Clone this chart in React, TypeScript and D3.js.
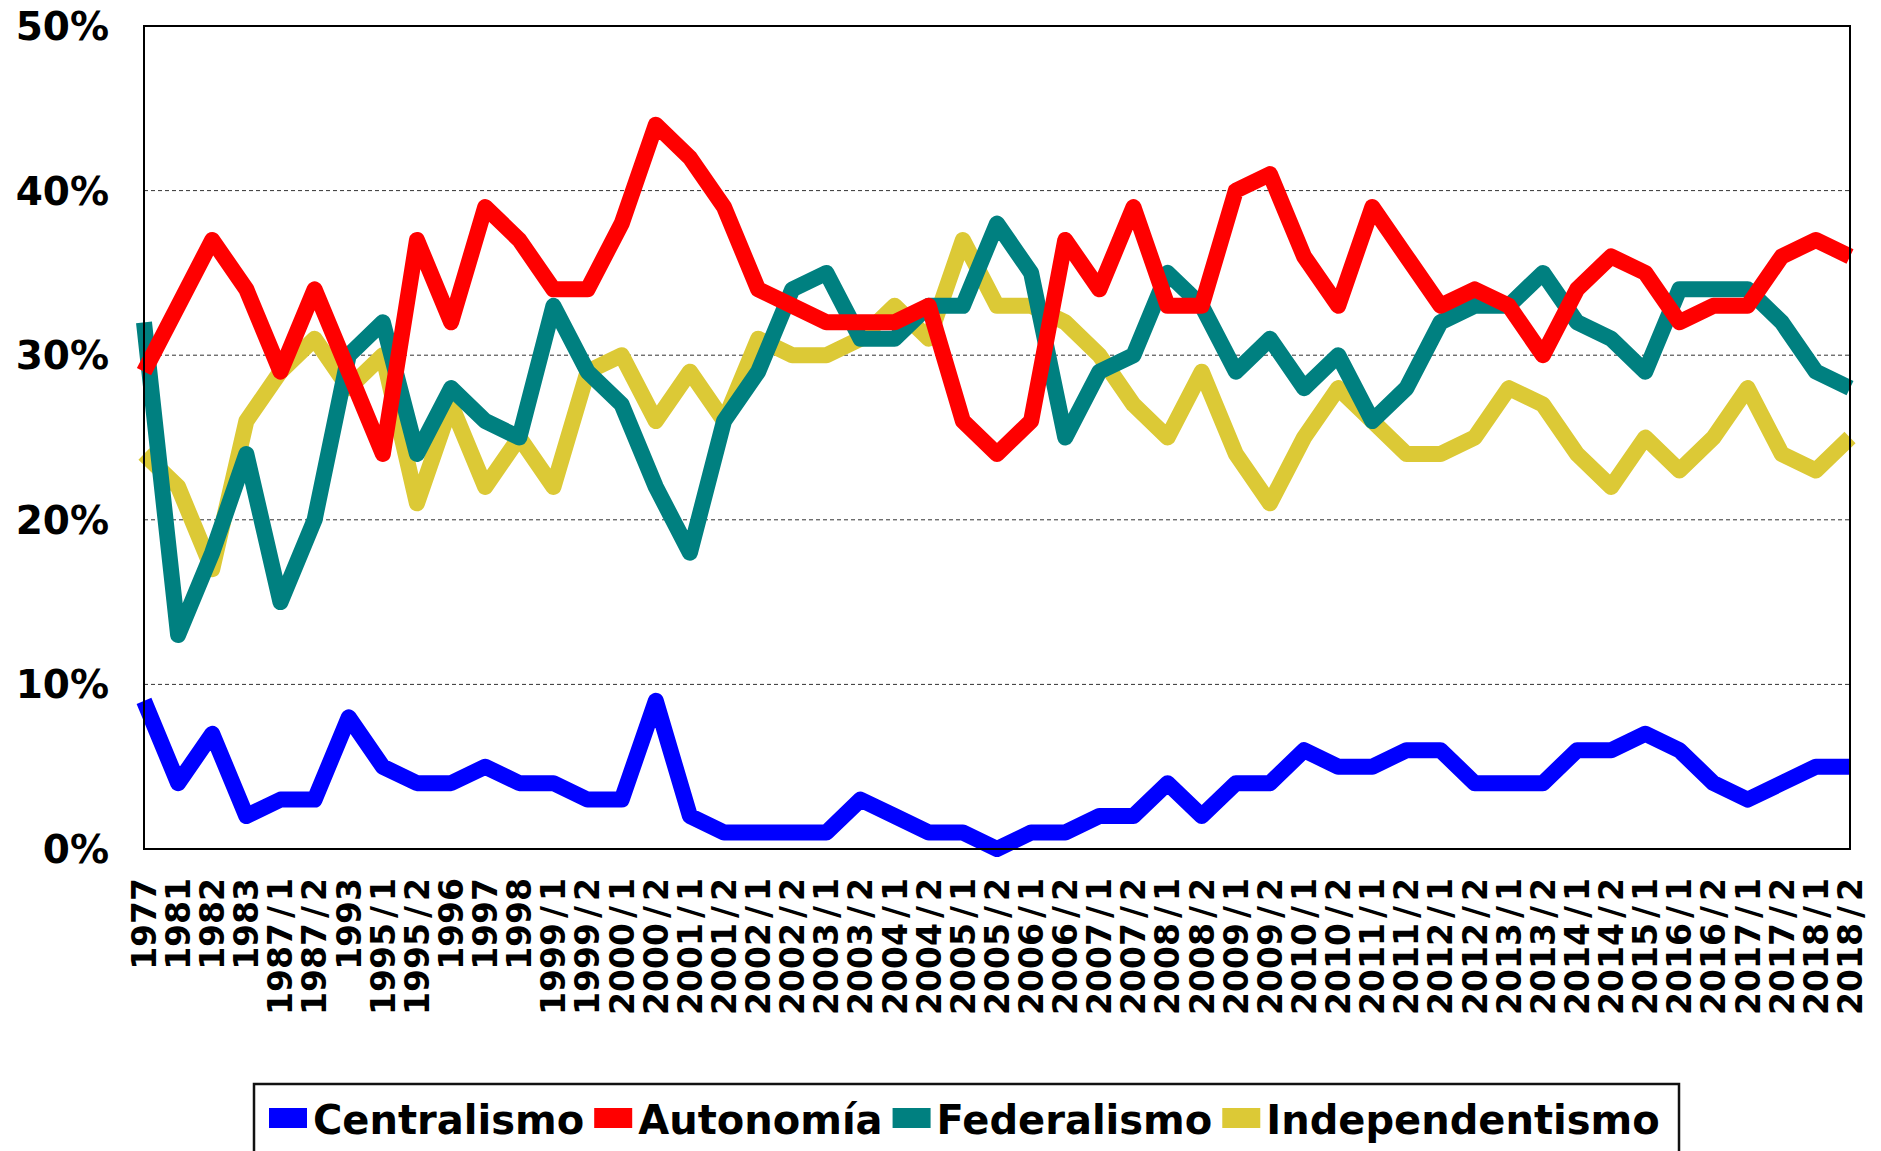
import React, { useEffect, useRef } from 'react';
import * as d3 from 'd3';

const categories = ["1977","1981","1982","1983","1987/1","1987/2","1993","1995/1","1995/2","1996","1997","1998","1999/1","1999/2","2000/1","2000/2","2001/1","2001/2","2002/1","2002/2","2003/1","2003/2","2004/1","2004/2","2005/1","2005/2","2006/1","2006/2","2007/1","2007/2","2008/1","2008/2","2009/1","2009/2","2010/1","2010/2","2011/1","2011/2","2012/1","2012/2","2013/1","2013/2","2014/1","2014/2","2015/1","2016/1","2016/2","2017/1","2017/2","2018/1","2018/2"];

const centralismo = [9,4,7,2,3,3,8,5,4,4,5,4,4,3,3,9,2,1,1,1,1,3,2,1,1,0,1,1,2,2,4,2,4,4,6,5,5,6,6,4,4,4,6,6,7,6,4,3,4,5,5];
const autonomia = [29,33,37,34,29,34,29,24,37,32,39,37,34,34,38,44,42,39,34,33,32,32,32,33,26,24,26,37,34,39,33,33,40,41,36,33,39,36,33,34,33,30,34,36,35,32,33,33,36,37,36];
const federalismo = [32,13,18,24,15,20,30,32,24,28,26,25,33,29,27,22,18,26,29,34,35,31,31,33,33,38,35,25,29,30,35,33,29,31,28,30,26,28,32,33,33,35,32,31,29,34,34,34,32,29,28];
const independentismo = [24,22,17,26,29,31,28,30,21,27,22,25,22,29,30,26,29,26,31,30,30,31,33,31,37,33,33,32,30,27,25,29,24,21,25,28,26,24,24,25,28,27,24,22,25,23,25,28,24,23,25];

const seriesNames = ["Centralismo", "Autonomía", "Federalismo", "Independentismo"];
const seriesColors = ["#0000FF", "#FF0000", "#008080", "#DCC936"];
const yTicks = [0, 10, 20, 30, 40, 50];

const W = 1881;
const H = 1151;

export default function App() {
  const ref = useRef<SVGSVGElement | null>(null);

  useEffect(() => {
    const svg = d3.select(ref.current);
    svg.selectAll('*').remove();
    const font = "'DejaVu Sans', Verdana, sans-serif";
    const left = 144, right = 1850, top = 26, bottom = 849;

    const x = d3.scalePoint<string>().domain(categories).range([left, right]);
    const y = d3.scaleLinear().domain([0, 50]).range([bottom, top]);

    svg.append('rect').attr('x', 0).attr('y', 0).attr('width', W).attr('height', H).attr('fill', '#fff');

    // gridlines
    svg.append('g').selectAll('line')
      .data(yTicks.filter(t => t > 0 && t < 50))
      .join('line')
      .attr('x1', left).attr('x2', right)
      .attr('y1', d => y(d)).attr('y2', d => y(d))
      .attr('stroke', '#333').attr('stroke-width', 1).attr('stroke-dasharray', '4,3');

    // y labels
    svg.append('g').selectAll('text')
      .data(yTicks)
      .join('text')
      .attr('x', 109).attr('y', d => y(d))
      .attr('dy', '0.36em')
      .attr('text-anchor', 'end')
      .attr('font-family', font).attr('font-weight', 'bold').attr('font-size', 39)
      .attr('fill', '#000')
      .text(d => d + '%');

    // x labels (slash given extra room, like the wider original face)
    const xl = svg.append('g').selectAll('text')
      .data(categories)
      .join('text')
      .attr('transform', d => `translate(${x(d)},878) rotate(-90)`)
      .attr('dy', '0.36em')
      .attr('text-anchor', 'end')
      .attr('font-family', font).attr('font-weight', 'bold').attr('font-size', 33)
      .attr('fill', '#000');
    xl.each(function (d) {
      const t = d3.select(this);
      const parts = d.split('/');
      if (parts.length === 1) {
        t.text(d);
      } else {
        t.append('tspan').text(parts[0]);
        t.append('tspan').attr('dx', 5).text('/');
        t.append('tspan').attr('dx', 5).text(parts[1]);
      }
    });

    const data = [centralismo, autonomia, federalismo, independentismo];
    const line = d3.line<number>()
      .x((_, i) => x(categories[i]) as number)
      .y(d => y(d));

    const order = [3, 2, 1, 0];
    const g = svg.append('g');
    order.forEach(k => {
      g.append('path')
        .attr('d', line(data[k]) as string)
        .attr('fill', 'none')
        .attr('stroke', seriesColors[k])
        .attr('stroke-width', 16)
        .attr('stroke-linejoin', 'round')
        .attr('stroke-linecap', 'butt');
    });

    // frame
    svg.append('rect')
      .attr('x', left).attr('y', top)
      .attr('width', right - left).attr('height', bottom - top)
      .attr('fill', 'none').attr('stroke', '#000').attr('stroke-width', 2);

    // legend
    const lg = svg.append('g');
    lg.append('rect')
      .attr('x', 254).attr('y', 1084).attr('width', 1425).attr('height', 120)
      .attr('fill', '#fff').attr('stroke', '#111').attr('stroke-width', 2.5);
    let cx = 269;
    seriesNames.forEach((name, k) => {
      lg.append('rect')
        .attr('x', cx).attr('y', 1108).attr('width', 38).attr('height', 20)
        .attr('fill', seriesColors[k]);
      const t = lg.append('text')
        .attr('x', cx + 44).attr('y', 1134)
        .attr('font-family', font).attr('font-weight', 'bold').attr('font-size', 40)
        .attr('fill', '#000')
        .text(name);
      const len = (t.node() as SVGTextElement).getComputedTextLength();
      cx = cx + 44 + len + 10;
    });
  }, []);

  return (
    <svg
      ref={ref}
      width={W}
      height={H}
      style={{ position: 'absolute', left: 0, top: 0, display: 'block' }}
    />
  );
}
